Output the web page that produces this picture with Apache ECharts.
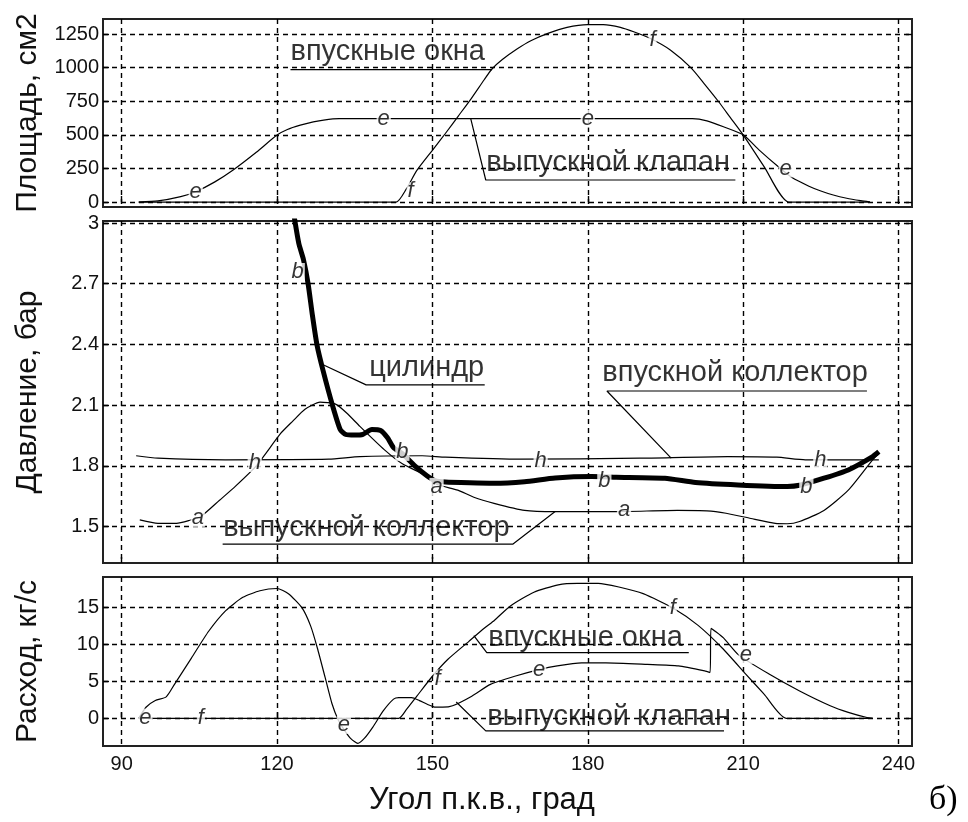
<!DOCTYPE html>
<html>
<head>
<meta charset="utf-8">
<script src="https://cdn.jsdelivr.net/npm/echarts@6/dist/echarts.min.js"></script>
<style>
  html, body { margin: 0; padding: 0; background: #fff; }
  #chart { width: 968px; height: 822px; }
</style>
</head>
<body>
<div id="chart"></div>
<script>
// ---- axis ticks ----
const xTicks = [90, 120, 150, 180, 210, 240];
const areaTicks = [0, 250, 500, 750, 1000, 1250];
const pressureTicks = [1.5, 1.8, 2.1, 2.4, 2.7, 3];
const flowTicks = [0, 5, 10, 15];

// ---- upper panel: flow areas, cm2 (crank angle, area) ----
const areaValve = [
  [93.3, 0], [97, 8], [101.4, 40], [104.3, 77], [108, 150], [111.6, 240], [116, 370],
  [120, 498], [122, 540], [124.5, 572], [127, 596], [129, 610], [132, 620],
  [200.2, 620], [203, 604], [206.2, 560], [210, 500], [213, 390], [216.8, 262],
  [219.5, 180], [222.7, 118], [225, 82], [227.4, 52], [230, 28], [232.7, 10], [234.5, 0]
];
const areaPorts = [
  [93.3, 0], [143, 0], [145, 100], [147, 235], [150, 385], [152.5, 510], [155, 640],
  [157.5, 770], [160, 910], [161.5, 990], [163.5, 1060], [166.4, 1140], [169, 1200],
  [172.3, 1255], [176, 1300], [180, 1320], [183, 1320], [186.3, 1300], [189, 1265],
  [192.2, 1215], [196, 1130], [199.9, 1000], [202.5, 880], [205.2, 750], [207.5, 630],
  [210, 500], [214.1, 260], [218.8, 0], [234.5, 0]
];

// ---- middle panel: pressure, bar ----
const pExhaust = [
  [93.5, 1.533], [97, 1.516], [100.6, 1.516], [103, 1.53], [105.3, 1.55], [108.9, 1.63],
  [112, 1.7], [116, 1.8], [120.7, 1.96], [123, 2.02], [125.4, 2.08], [128.3, 2.115],
  [131.3, 2.105], [133.5, 2.06], [136, 1.995], [140.7, 1.88], [144.2, 1.81], [148.9, 1.75],
  [150.7, 1.71], [154.9, 1.68], [158, 1.645], [161.9, 1.615], [167.8, 1.58], [173.7, 1.574],
  [185.5, 1.574], [197.3, 1.58], [203, 1.578], [206.7, 1.566], [211.5, 1.54], [216.2, 1.516],
  [218.5, 1.514], [220.9, 1.525], [225.6, 1.58], [230.3, 1.68], [235, 1.83], [236.2, 1.86]
];
const pIntake = [
  [92.8, 1.85], [97, 1.838], [110, 1.83], [130, 1.833], [136, 1.846], [148, 1.85],
  [152.5, 1.843], [167, 1.833], [190, 1.838], [207, 1.846], [216.5, 1.843], [222, 1.83],
  [236.2, 1.83]
];
const pCylinder = [
  [123.2, 3.05], [124.2, 2.9], [125.1, 2.82], [126, 2.7], [126.8, 2.55], [127.7, 2.4],
  [128.9, 2.27], [130.7, 2.1], [132.2, 1.98], [133.3, 1.955], [135, 1.952], [136.6, 1.956],
  [138.3, 1.98], [140, 1.975], [141.3, 1.94], [142.5, 1.89], [144.2, 1.86], [146.6, 1.8],
  [149, 1.75], [150.5, 1.727], [152.5, 1.72], [157.2, 1.716], [161.9, 1.714], [167.8, 1.722],
  [173.7, 1.74], [180.8, 1.747], [185.5, 1.744], [194.9, 1.739], [200.8, 1.718], [209, 1.706],
  [218.5, 1.698], [220.9, 1.704], [225.6, 1.739], [230.3, 1.78], [235, 1.846], [236.2, 1.87]
];

// ---- lower panel: mass flow, kg/s ----
const flowValve = [
  [93.3, 0], [94.7, 1.5], [96.5, 2.4], [98.6, 2.9], [100.2, 4.6], [103.5, 8.2], [106.8, 11.8],
  [110.1, 14.6], [113.4, 16.4], [116.7, 17.3], [120, 17.6], [122.2, 16.9], [124.8, 15],
  [126.5, 12.5], [127.8, 9.5], [129.3, 5.5], [130.6, 2], [131.8, -0.2], [133, -1.6],
  [134.3, -2.8], [135.6, -3.4], [136.9, -2.7], [138.5, -1.2], [140.5, 1], [142.5, 2.6],
  [143.5, 2.8], [146, 2.8], [147.5, 2.4], [149, 1.9], [150.6, 1.5], [152, 1.5], [153.9, 1.7],
  [157.6, 3.0], [161.2, 4.6], [165.9, 5.7], [170.6, 6.6], [174.1, 7.1], [178.8, 7.5],
  [183.5, 7.5], [191.5, 7.3], [197.5, 7.1], [202.7, 6.4], [203.6, 6.2], [203.8, 12.2],
  [206.2, 10.9], [209.1, 8.6], [215, 6], [220.9, 3.7], [226.8, 1.7], [230.3, 0.8],
  [233.9, 0.1], [235, 0]
];
const flowPorts = [
  [93.3, 0], [143.5, 0], [145, 1.2], [147, 3], [150, 5.7], [153, 8], [157, 10.4],
  [160, 12.2], [162, 13.3], [165, 15.2], [169.6, 17.1], [174.3, 18.1], [178, 18.3],
  [182, 18.3], [186, 17.8], [190.7, 16.9], [196.6, 14.9], [201.3, 12.6], [206, 9.5],
  [210.5, 6], [214, 3.3], [218.3, 0], [235, 0]
];

// ---- curve letters ----
const areaLetters = [[104.3, 77, 'e'], [140.6, 620, 'e'], [180, 620, 'e'], [218.2, 250, 'e'],
  [145.8, 80, 'f'], [192.5, 1205, 'f']];
const pressureLetters = [[104.7, 1.543, 'a'], [150.8, 1.696, 'a'], [187, 1.582, 'a'],
  [124, 2.758, 'b'], [144.2, 1.869, 'b'], [183.2, 1.725, 'b'], [222.2, 1.696, 'b'],
  [115.7, 1.814, 'h'], [170.9, 1.824, 'h'], [224.9, 1.829, 'h']];
const flowLetters = [[94.6, 0.1, 'e'], [132.9, -0.9, 'e'], [170.6, 6.6, 'e'], [210.5, 8.6, 'e'],
  [105.3, 0, 'f'], [151, 5.4, 'f'], [196.4, 15, 'f']];

// ---- callouts: leader polyline + caption ----
const areaCallouts = [
  { text: 'впускные окна', line: [[122.6, 985], [161.5, 985]], at: [122.6, 1120] },
  { text: 'выпускной клапан', line: [[157.4, 620], [160.3, 164], [208.5, 164]], at: [160.4, 290] }
];
const pressureCallouts = [
  { text: 'цилиндр', line: [[128.9, 2.3], [137.2, 2.2], [160.1, 2.2]], at: [137.8, 2.285] },
  { text: 'впускной коллектор', line: [[196.1, 1.838], [183.7, 2.17], [233.9, 2.17]], at: [182.8, 2.258] },
  { text: 'выпускной коллектор', line: [[173.7, 1.574], [165.5, 1.413], [109.5, 1.413]], at: [109.6, 1.495] }
];
const flowCallouts = [
  { text: 'впускные окна', line: [[158, 11.2], [160.5, 8.9], [199.5, 8.9]], at: [160.8, 10.9] },
  { text: 'выпускной клапан', line: [[154.6, 2.2], [160.3, -1.7], [206.3, -1.7]], at: [160.6, 0.2] }
];

const FONT = 'Liberation Sans';
const X_MIN = 86.4, X_MAX = 242.6;
const panels = [
  { top: 19, height: 188, min: -37, max: 1362, ticks: areaTicks, name: 'Площадь, см2' },
  { top: 221, height: 342, min: 1.32, max: 3.01, ticks: pressureTicks, name: 'Давление, бар' },
  { top: 577, height: 169, min: -3.76, max: 19.16, ticks: flowTicks, name: 'Расход, кг/с' }
];

const dashed = { color: '#000', width: 1.4, type: [5, 4] };
const tickStyle = { color: '#000', width: 1.4 };
const grid = [], xAxis = [], yAxis = [], series = [];

panels.forEach((p, i) => {
  grid.push({ left: 103, width: 809, top: p.top, height: p.height, show: true,
    borderColor: '#222', borderWidth: 2, backgroundColor: '#fff' });
  xAxis.push({
    type: 'value', gridIndex: i, min: X_MIN, max: X_MAX,
    axisLine: { show: false },
    axisTick: { show: true, inside: true, length: 6, customValues: xTicks, lineStyle: tickStyle },
    axisLabel: { show: i === 2, customValues: xTicks, margin: 8,
      fontFamily: FONT, fontSize: 20, color: '#111' },
    splitLine: { show: true, lineStyle: dashed }
  });
  yAxis.push({
    type: 'value', gridIndex: i, min: p.min, max: p.max,
    name: p.name, nameLocation: 'middle', nameRotate: 90, nameGap: 60,
    nameTextStyle: { fontFamily: FONT, fontSize: 30, color: '#111' },
    axisLine: { show: false },
    axisTick: { show: true, inside: true, length: 6, customValues: p.ticks, lineStyle: tickStyle },
    axisLabel: { customValues: p.ticks, margin: 4, fontFamily: FONT, fontSize: 20, color: '#111',
      formatter: v => String(Math.round(v * 10) / 10) },
    splitLine: { show: true, lineStyle: dashed }
  });
  // right-hand frame ticks
  yAxis.push({
    type: 'value', gridIndex: i, min: p.min, max: p.max, position: 'right',
    axisLine: { show: false },
    axisTick: { show: true, inside: true, length: 6, customValues: p.ticks, lineStyle: tickStyle },
    axisLabel: { show: false }, splitLine: { show: false }
  });
});

function curve(data, idx, width) {
  series.push({ type: 'line', xAxisIndex: idx, yAxisIndex: idx * 2, data, showSymbol: false,
    smooth: 0.2, clip: true, silent: true, z: 3,
    lineStyle: { color: '#000', width: width || 1.2 } });
}
function letters(list, idx) {
  series.push({ type: 'scatter', xAxisIndex: idx, yAxisIndex: idx * 2, data: list,
    symbolSize: 0, z: 6, silent: true,
    label: { show: true, position: 'inside', formatter: q => q.data[2],
      fontFamily: FONT, fontStyle: 'italic', fontSize: 22, color: '#000',
      backgroundColor: '#fff', padding: [0, 1], lineHeight: 18 } });
}
function callouts(list, idx) {
  list.forEach(c => {
    series.push({ type: 'line', xAxisIndex: idx, yAxisIndex: idx * 2, data: c.line,
      showSymbol: false, silent: true, z: 4, lineStyle: { color: '#000', width: 1.2 } });
    series.push({ type: 'scatter', xAxisIndex: idx, yAxisIndex: idx * 2,
      data: [[c.at[0], c.at[1], c.text]], symbolSize: 0, z: 5, silent: true,
      label: { show: true, position: 'right', distance: 0, formatter: q => q.data[2],
        fontFamily: FONT, fontSize: 29, color: '#000' } });
  });
}

curve(areaValve, 0); curve(areaPorts, 0);
letters(areaLetters, 0); callouts(areaCallouts, 0);

curve(pExhaust, 1); curve(pIntake, 1); curve(pCylinder, 1, 5);
letters(pressureLetters, 1); callouts(pressureCallouts, 1);

curve(flowValve, 2); curve(flowPorts, 2);
letters(flowLetters, 2); callouts(flowCallouts, 2);

const chart = echarts.init(document.getElementById('chart'), null, { renderer: 'canvas' });
chart.setOption({
  animation: false,
  backgroundColor: '#fff',
  title: [
    { text: 'Угол п.к.в., град', left: 364, top: 780,
      textStyle: { fontFamily: FONT, fontSize: 31, fontWeight: 'normal', color: '#111' } },
    { text: 'б)', left: 924, top: 778,
      textStyle: { fontFamily: 'Liberation Serif', fontSize: 34, fontWeight: 'normal', color: '#000' } }
  ],
  grid, xAxis, yAxis, series
});
</script>
</body>
</html>
